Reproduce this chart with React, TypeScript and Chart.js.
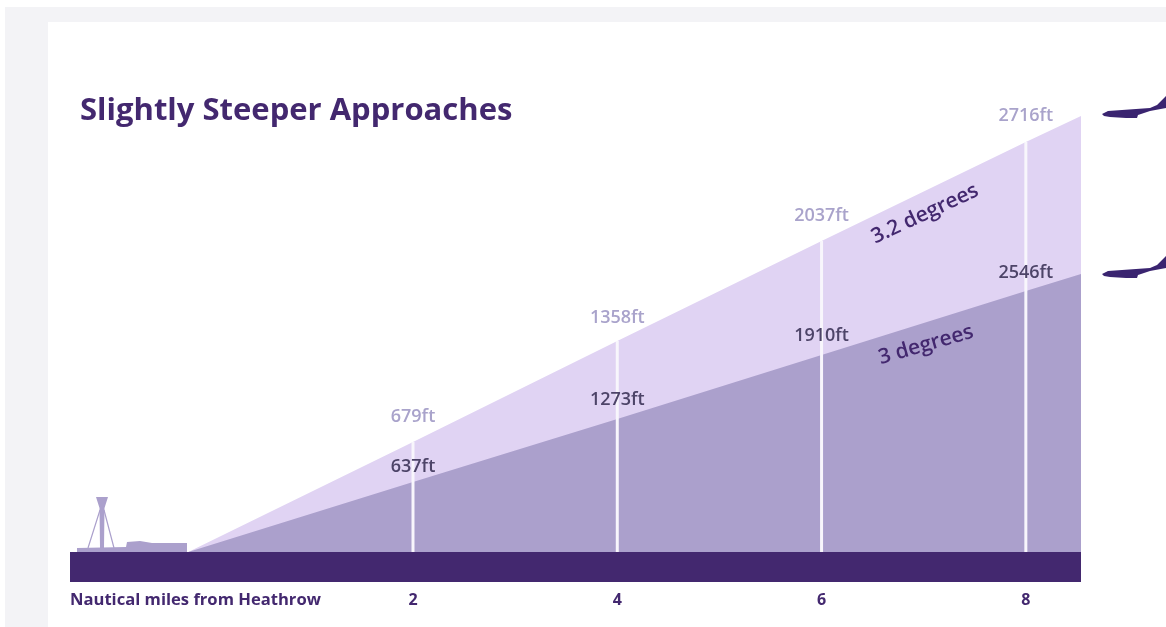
import React, { useEffect, useRef } from "react";
import { Chart, registerables } from "chart.js";

Chart.register(...registerables);

const titleText = "Slightly Steeper Approaches";
const axisText = "Nautical miles from Heathrow";
const tickMiles = [2, 4, 6, 8];
const edgeMiles = [-0.2, 2, 4, 6, 8, 8.54];
const upperEdge = [0, 110, 211, 311, 410, 436];
const lowerEdge = [0, 70, 133, 197, 261, 278];
const postHeights = [110, 211, 311, 410];
const upperLabels = ["679ft", "1358ft", "2037ft", "2716ft"];
const lowerLabels = ["637ft", "1273ft", "1910ft", "2546ft"];
const groundMiles = [-1.358, 8.54];
const upperLabelGaps = [25, 23, 25, 26];
const lowerLabelGaps = [15, 19, 19, 18];

const FONT = '"Open Sans", sans-serif';
const DARK = "#43286f";
const LIGHT = "#e0d3f3";
const MID = "#aba0cc";

const overlay = {
  id: "overlay",
  afterDatasetsDraw(chart: any) {
    const { ctx, scales } = chart;
    const x = scales.x;
    const y = scales.y;
    ctx.save();
    ctx.textBaseline = "middle";

    // Title and axis caption
    ctx.textAlign = "left";
    ctx.fillStyle = DARK;
    ctx.font = `700 31px ${FONT}`;
    ctx.fillText(titleText, 80, 111);
    ctx.font = `700 16.6px ${FONT}`;
    ctx.fillText(axisText, 70, 600);

    // Height labels
    ctx.textAlign = "center";
    ctx.font = `600 18px ${FONT}`;
    tickMiles.forEach((m, i) => {
      const px = x.getPixelForValue(m);
      ctx.fillStyle = "#a9a3cb";
      ctx.fillText(upperLabels[i], px, y.getPixelForValue(upperEdge[i + 1]) - upperLabelGaps[i]);
      ctx.fillStyle = "#4d4468";
      ctx.fillText(lowerLabels[i], px, y.getPixelForValue(lowerEdge[i + 1]) - lowerLabelGaps[i]);
    });

    // Rotated slope labels
    ctx.fillStyle = DARK;
    ctx.font = `600 21px ${FONT}`;
    ctx.save();
    ctx.translate(925, 214);
    ctx.rotate((-25 * Math.PI) / 180);
    ctx.fillText("3.2 degrees", 0, 0);
    ctx.restore();
    ctx.save();
    ctx.translate(926, 345);
    ctx.rotate((-16 * Math.PI) / 180);
    ctx.fillText("3 degrees", 0, 0);
    ctx.restore();

    // Control tower and terminal silhouette
    ctx.fillStyle = MID;
    ctx.strokeStyle = MID;
    ctx.beginPath();
    ctx.moveTo(96, 497);
    ctx.lineTo(108, 497);
    ctx.lineTo(104.5, 508);
    ctx.lineTo(104, 548);
    ctx.lineTo(100, 548);
    ctx.lineTo(99.5, 508);
    ctx.closePath();
    ctx.fill();
    ctx.lineWidth = 1.2;
    ctx.beginPath();
    ctx.moveTo(100, 510);
    ctx.lineTo(88, 548);
    ctx.moveTo(104, 510);
    ctx.lineTo(114, 548);
    ctx.stroke();
    ctx.beginPath();
    ctx.moveTo(77, 552);
    ctx.lineTo(77, 548);
    ctx.lineTo(126, 547);
    ctx.lineTo(127, 542);
    ctx.lineTo(140, 541);
    ctx.lineTo(152, 543);
    ctx.lineTo(187, 543);
    ctx.lineTo(187, 552);
    ctx.closePath();
    ctx.fill();

    // Aircraft, cut off by the page edge
    ctx.fillStyle = "#3a2470";
    [0, 160].forEach((dy) => {
      ctx.save();
      ctx.translate(0, dy);
      ctx.beginPath();
      ctx.moveTo(1102, 114);
      ctx.lineTo(1108, 111);
      ctx.lineTo(1150, 108);
      ctx.lineTo(1157, 105);
      ctx.lineTo(1166, 96);
      ctx.lineTo(1166, 108);
      ctx.lineTo(1150, 111);
      ctx.lineTo(1138, 115);
      ctx.lineTo(1137, 118);
      ctx.lineTo(1126, 118);
      ctx.lineTo(1110, 117);
      ctx.lineTo(1104, 116);
      ctx.closePath();
      ctx.fill();
      ctx.restore();
    });
    ctx.restore();
  },
};

export default function App() {
  const ref = useRef<HTMLCanvasElement | null>(null);
  useEffect(() => {
    if (!ref.current) return;
    const lineSet = (data: any[], color: string, fill: any, order: number) => ({
      type: "line",
      data,
      order,
      borderWidth: 0,
      borderColor: color,
      backgroundColor: color,
      pointRadius: 0,
      tension: 0,
      fill,
    });
    const chart = new Chart(ref.current, {
      type: "line",
      data: {
        datasets: [
          lineSet(edgeMiles.map((m, i) => ({ x: m, y: upperEdge[i] })), LIGHT, "origin", 3),
          lineSet(edgeMiles.map((m, i) => ({ x: m, y: lowerEdge[i] })), MID, "origin", 2),
          ...tickMiles.map((m, i) => ({
            type: "line",
            order: 1,
            data: [{ x: m, y: 0 }, { x: m, y: postHeights[i] }],
            borderColor: "#f8f6fc",
            borderWidth: 3,
            pointRadius: 0,
            fill: false,
          })),
          lineSet(groundMiles.map((m) => ({ x: m, y: 0 })), DARK, "start", 0),
        ] as any,
      },
      plugins: [overlay],
      options: {
        animation: false,
        responsive: false,
        maintainAspectRatio: false,
        layout: { padding: { left: 70, right: 85, top: 0, bottom: 0 } },
        plugins: { legend: { display: false }, tooltip: { enabled: false }, title: { display: false } },
        scales: {
          x: {
            type: "linear",
            min: groundMiles[0],
            max: groundMiles[1],
            grid: { display: false },
            border: { display: false },
            afterBuildTicks: (s: any) => {
              s.ticks = tickMiles.map((value) => ({ value }));
            },
            afterFit: (s: any) => {
              s.height = 45;
            },
            ticks: {
              color: DARK,
              maxRotation: 0,
              padding: 1,
              font: { family: "Open Sans", size: 16, weight: 700 },
            },
          },
          y: { display: false, min: -30, max: 552 },
        },
      } as any,
    });
    return () => chart.destroy();
  }, []);

  return (
    <div style={{ position: "absolute", left: 0, top: 0, width: 1166, height: 627, background: "#fff", overflow: "hidden" }}>
      <div style={{ position: "absolute", left: 5, top: 7, width: 1161, height: 620, background: "#f3f3f6" }} />
      <div style={{ position: "absolute", left: 48, top: 22, width: 1118, height: 605, background: "#fff" }} />
      <canvas
        ref={ref}
        width={1166}
        height={627}
        style={{ position: "absolute", left: 0, top: 0, width: 1166, height: 627, filter: "blur(0.5px)" }}
      />
    </div>
  );
}
